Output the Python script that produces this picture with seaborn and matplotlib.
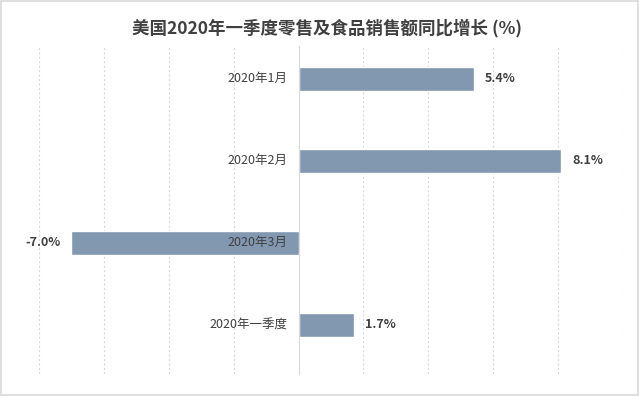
import numpy as np
import pandas as pd
import matplotlib.pyplot as plt
import seaborn as sns

months = ["2020年1月", "2020年2月", "2020年3月", "2020年一季度"]
growth = [5.4, 8.1, -7.0, 1.7]

df = pd.DataFrame({"period": months, "growth": growth})

sns.set_style("white")
plt.rcParams['font.family'] = ['Noto Sans CJK SC', 'DejaVu Sans']

fig = plt.figure(figsize=(6.39, 3.96), dpi=100)
ax = fig.add_axes([39 / 639, 22 / 396, 584 / 639, 328 / 396])

sns.barplot(data=df, x="growth", y="period", orient="h", color="#8297b0",
            saturation=1, width=0.29, ax=ax, zorder=3)

ax.set_xlim(-8, 10)
ax.set_ylim(3.6, -0.4)
ax.set_xticks(np.arange(-8, 11, 2))
ax.xaxis.grid(True, linestyle=(0, (2, 2)), color="#d9d9d9", linewidth=0.8)
ax.tick_params(axis="x", length=0, labelbottom=False)
ax.tick_params(axis="y", length=0, labelleft=False)
ax.set_xlabel("")
ax.set_ylabel("")

for s in ["top", "right", "bottom"]:
    ax.spines[s].set_visible(False)
ax.spines["left"].set_position(("data", 0))
ax.spines["left"].set_color("#d9d9d9")
ax.spines["left"].set_zorder(4)

# category labels sit just left of the zero line, on top of the bars
for i, name in enumerate(months):
    ax.annotate(name, (0, i), xytext=(-8, 0), textcoords="offset points",
                ha="right", va="center", fontsize=9, color="#404040", zorder=5)

for i, v in enumerate(growth):
    if v >= 0:
        ax.annotate(f"{v:.1f}%", (v, i), xytext=(8, 0), textcoords="offset points",
                    ha="left", va="center", fontsize=9, fontweight="bold", color="#404040")
    else:
        ax.annotate(f"{v:.1f}%", (v, i), xytext=(-7.5, 0), textcoords="offset points",
                    ha="right", va="center", fontsize=9, fontweight="bold", color="#404040")

fig.text(0.512, 0.928, "美国2020年一季度零售及食品销售额同比增长 (%)", ha="center", va="center",
         fontsize=12.6, fontweight="bold", color="#404040")

fig.patches.append(plt.Rectangle((0.002, 0.003), 0.996, 0.994, transform=fig.transFigure,
                                 fill=False, edgecolor="#d9d9d9", linewidth=1.2))

fig.savefig("out.png", dpi=100)
